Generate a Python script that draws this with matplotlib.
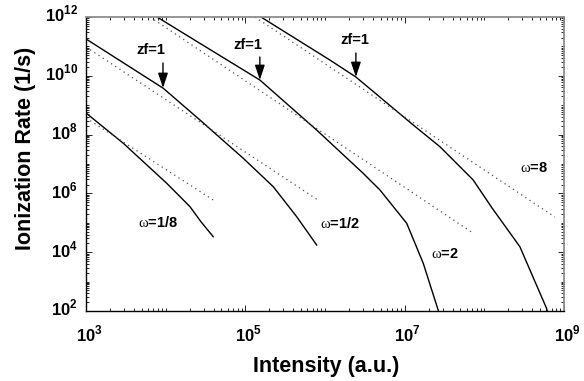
import numpy as np
import matplotlib
matplotlib.use("Agg")
import matplotlib.pyplot as plt
import matplotlib.transforms as mtransforms
from matplotlib.ticker import LogLocator, NullFormatter

plt.rcParams["font.family"] = ["Liberation Sans", "DejaVu Sans"]
plt.rcParams["mathtext.fontset"] = "custom"
plt.rcParams["mathtext.rm"] = "Liberation Serif"
plt.rcParams["mathtext.bf"] = "Liberation Sans:bold"

# full ionization rate (solid curves), intensity in a.u., rate in 1/s
I_w18 = [1.0e3, 2.94e3, 5.50e3, 1.03e4, 2.02e4, 2.77e4, 3.95e4]
R_w18 = [5.43e8, 5.06e7, 1.06e7, 2.21e6, 3.53e5, 1.09e5, 3.37e4]

I_w12 = [1.0e3, 9.33e3, 2.69e4, 9.42e4, 2.24e5, 4.41e5, 7.85e5]
R_w12 = [1.79e11, 3.76e9, 3.14e8, 1.56e7, 1.69e6, 1.61e5, 1.76e4]

I_w2 = [7.78e3, 2.69e4, 1.52e5, 7.85e5, 3.01e6, 4.89e6, 1.06e7, 1.71e7, 2.63e7, 2.65e7]
R_w2 = [1.0e12, 1.27e11, 7.19e9, 1.43e8, 4.83e6, 1.31e6, 9.62e4, 4.19e3, 1.08e2, 1.0e2]

I_w8 = [1.57e5, 1.15e6, 2.44e6, 1.28e7, 2.77e7, 7.24e7, 1.25e8, 2.79e8, 6.03e8, 6.17e8]
R_w8 = [1.0e12, 3.44e10, 9.10e9, 2.12e8, 3.87e7, 2.86e6, 3.18e5, 1.54e4, 1.24e2, 1.0e2]

# asymptotic (dotted) lines, end points
I_a18 = [1.0e3, 3.95e4]
R_a18 = [3.67e8, 5.97e5]
I_a12 = [1.0e3, 8.15e5]
R_a12 = [9.55e10, 5.97e5]
I_a2 = [6.35e3, 7.18e7]
R_a2 = [1.0e12, 4.50e4]
I_a8 = [1.32e5, 7.67e8]
R_a8 = [1.0e12, 1.57e5]

omega_labels = [r"$\mathrm{\omega}$=1/8", r"$\mathrm{\omega}$=1/2",
                r"$\mathrm{\omega}$=2", r"$\mathrm{\omega}$=8"]
omega_I = [8.0e3, 1.54e6, 3.19e7, 4.18e8]
omega_R = [1.06e5, 9.84e4, 8.69e3, 7.31e6]

# zf=1 markers: arrow tip on the curve, arrow tail, text position
zf_tip_I = [9.25e3, 1.52e5, 2.44e6]
zf_tip_R = [3.85e9, 7.19e9, 9.10e9]
zf_tail_R = [2.72e10, 4.36e10, 5.97e10]
zf_text_I = [6.55e3, 1.08e5, 2.37e6]
zf_text_R = [7.55e10, 1.12e11, 1.65e11]

xticks = [1e3, 1e5, 1e7, 1e9]
xticklabels = [r"$\mathbf{10}^{\mathbf{3}}$", r"$\mathbf{10}^{\mathbf{5}}$",
               r"$\mathbf{10}^{\mathbf{7}}$", r"$\mathbf{10}^{\mathbf{9}}$"]
yticks = [1e2, 1e4, 1e6, 1e8, 1e10, 1e12]
yticklabels = [r"$\mathbf{10}^{\mathbf{2}}$", r"$\mathbf{10}^{\mathbf{4}}$",
               r"$\mathbf{10}^{\mathbf{6}}$", r"$\mathbf{10}^{\mathbf{8}}$",
               r"$\mathbf{10}^{\mathbf{10}}$", r"$\mathbf{10}^{\mathbf{12}}$"]

fig = plt.figure(figsize=(5.84, 3.81), dpi=100)
ax = fig.add_axes([0.1473, 0.1837, 0.8185, 0.7717])

for I, R in [(I_w18, R_w18), (I_w12, R_w12), (I_w2, R_w2), (I_w8, R_w8)]:
    ax.plot(I, R, color="black", lw=1.0)
for I, R in [(I_a18, R_a18), (I_a12, R_a12), (I_a2, R_a2), (I_a8, R_a8)]:
    ax.plot(I, R, color="0.3", lw=0.9, linestyle=(0, (1, 3)))

ax.set_xscale("log")
ax.set_yscale("log")
ax.set_xlim(1e3, 1e9)
ax.set_ylim(1e2, 1e12)

for lab, x, y in zip(omega_labels, omega_I, omega_R):
    ax.text(x, y, lab, fontsize=10.5, fontweight="bold", ha="center", va="center")

for i in range(len(zf_tip_I)):
    ax.annotate("", xy=(zf_tip_I[i], zf_tip_R[i]), xytext=(zf_tip_I[i], zf_tail_R[i]),
                arrowprops=dict(arrowstyle="-|>,head_length=0.9,head_width=0.3",
                                color="black", lw=1.0, shrinkA=0, shrinkB=0,
                                mutation_scale=10))
    ax.text(zf_text_I[i], zf_text_R[i], "zf=1", fontsize=10.5, fontweight="bold",
            ha="center", va="center")

ax.set_xticks(xticks, xticklabels, fontsize=12)
ax.set_yticks(yticks, yticklabels, fontsize=12)
ax.xaxis.set_minor_locator(LogLocator(base=10, subs=np.arange(1, 10), numticks=100))
ax.yaxis.set_minor_locator(LogLocator(base=10, subs=np.arange(1, 10), numticks=100))
ax.xaxis.set_minor_formatter(NullFormatter())
ax.yaxis.set_minor_formatter(NullFormatter())
ax.tick_params(which="both", direction="in", top=True, right=True, width=0.6)
ax.tick_params(which="major", length=4)
ax.tick_params(which="minor", length=2)
ax.tick_params(axis="x", pad=9)
ax.tick_params(axis="y", pad=6)

dx = mtransforms.ScaledTranslation(3 / 100, 0, fig.dpi_scale_trans)
for lbl in ax.get_xticklabels():
    lbl.set_transform(lbl.get_transform() + dx)
dy = mtransforms.ScaledTranslation(0, 4 / 100, fig.dpi_scale_trans)
for lbl in ax.get_yticklabels():
    lbl.set_transform(lbl.get_transform() + dy)

for side in ["left", "bottom"]:
    ax.spines[side].set_color("black")
    ax.spines[side].set_linewidth(1.0)
for side in ["top", "right"]:
    ax.spines[side].set_color("0.55")
    ax.spines[side].set_linewidth(1.3)

ax.set_xlabel("Intensity (a.u.)", fontsize=15.5, fontweight="bold")
ax.set_ylabel("Ionization Rate (1/s)", fontsize=15.5, fontweight="bold")
ax.xaxis.set_label_coords(0.502, -0.153)
ax.yaxis.set_label_coords(-0.105, 0.554)

fig.savefig("out.png", dpi=100)
